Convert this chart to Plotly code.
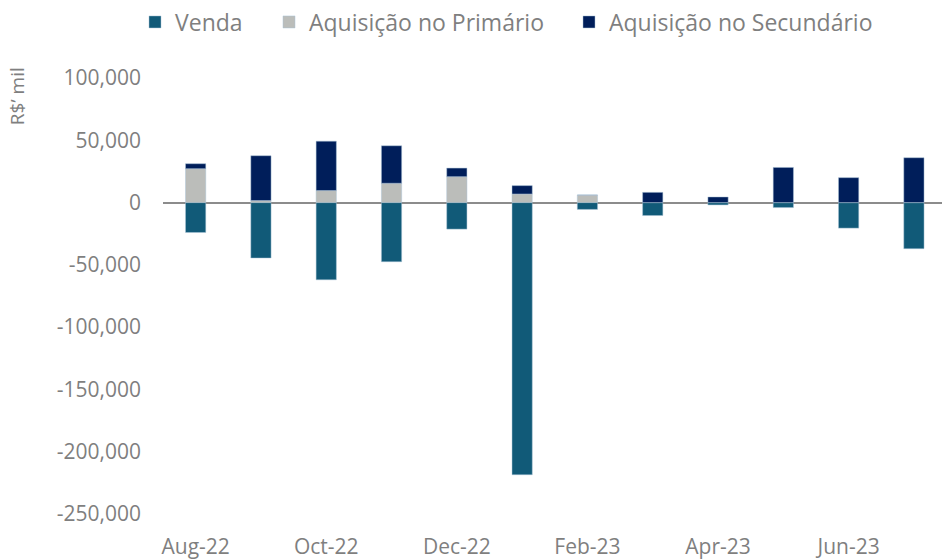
import plotly.graph_objects as go

months = ["Aug-22", "Sep-22", "Oct-22", "Nov-22", "Dec-22", "Jan-23",
          "Feb-23", "Mar-23", "Apr-23", "May-23", "Jun-23", "Jul-23"]
venda = [-24000, -44500, -62000, -47500, -21300, -218500,
         -5500, -10400, -1900, -4000, -20500, -37000]
aq_primario = [27200, 1600, 9600, 15500, 20800, 6900,
               6100, 0, 0, 0, 0, 0]
aq_secundario = [4000, 36000, 39700, 30100, 6900, 6700,
                 0, 8200, 4500, 28200, 20000, 36000]
tick_labels = ["Aug-22", "Oct-22", "Dec-22", "Feb-23", "Apr-23", "Jun-23"]
y_ticks = [100000, 50000, 0, -50000, -100000, -150000, -200000, -250000]
y_tick_text = ["100,000", "50,000", "0", "-50,000", "-100,000",
               "-150,000", "-200,000", "-250,000"]

FONT = "Open Sans"
GREY = "#7f7f7f"
W, H = 942, 559

series = [("Venda", venda, "#115A78", "legend", 135),
          ("Aquisição no Primário", aq_primario, "#BBBDBA", "legend2", 269),
          ("Aquisição no Secundário", aq_secundario, "#001E5A", "legend3", 569)]

fig = go.Figure()
legends = {}
for name, vals, col, lg, lx in series:
    fig.add_trace(go.Bar(x=months, y=vals, name=name, legend=lg,
                         marker=dict(color=col, line=dict(color="rgba(170,195,215,0.8)", width=0.6)),
                         hoverinfo="skip"))
    legends[lg] = dict(orientation="h", xref="container", yref="container",
                       x=lx / W, y=1 - 22 / H, xanchor="left", yanchor="middle",
                       font=dict(size=23, color=GREY, family=FONT),
                       itemwidth=30, bgcolor="rgba(0,0,0,0)")

fig.update_layout(
    width=W, height=H,
    barmode="relative", bargap=0.69,
    plot_bgcolor="white", paper_bgcolor="white",
    margin=dict(l=163, r=0, t=78, b=45, autoexpand=False),
    font=dict(family=FONT, color=GREY),
    showlegend=True,
    annotations=[dict(text="R$’ mil", textangle=-90, xref="paper", yref="paper",
                      x=-0.187, y=0.959, xanchor="center", yanchor="middle",
                      showarrow=False, font=dict(size=19, color=GREY, family=FONT))],
    **legends,
)
fig.update_xaxes(type="category", range=[-0.5, 11.43],
                 tickmode="array", tickvals=tick_labels, ticktext=tick_labels,
                 showgrid=False, showline=False, ticks="",
                 tickfont=dict(size=21, color=GREY, family=FONT),
                 ticklabelstandoff=18, zeroline=False)
fig.update_yaxes(range=[-250000, 100000], tickmode="array", tickvals=y_ticks,
                 ticktext=y_tick_text, showgrid=False, showline=False, ticks="",
                 tickfont=dict(size=21, color=GREY, family=FONT),
                 ticklabelstandoff=21,
                 zeroline=True, zerolinecolor="#8c8c8c", zerolinewidth=2)

fig.write_html("out.html", config={"displayModeBar": False},
               post_script="document.body.style.margin='0';")
